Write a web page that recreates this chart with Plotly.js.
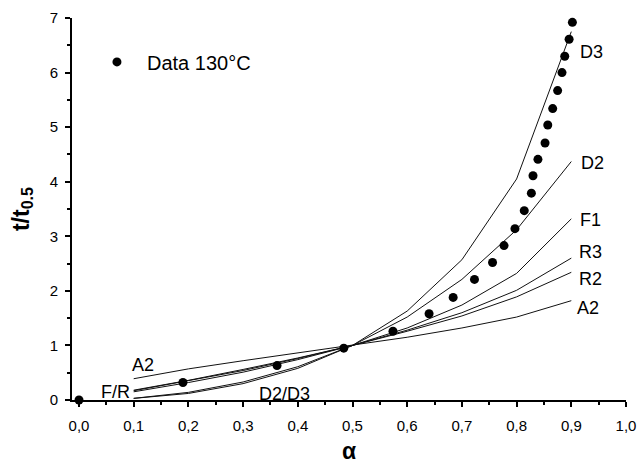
<!DOCTYPE html>
<html>
<head>
<meta charset="utf-8">
<script src="https://cdn.plot.ly/plotly-3.0.1.min.js"></script>
<style>html,body{margin:0;padding:0;background:#fff;}#chart{width:637px;height:464px;}</style>
</head>
<body>
<div id="chart"></div>
<script>
// master-plot grid (alpha)
const alphaGrid = [0.1, 0.2, 0.3, 0.4, 0.5, 0.6, 0.7, 0.8, 0.9];
// reduced time t/t0.5 for each model
const modelA2 = [0.39, 0.57, 0.72, 0.86, 1.00, 1.15, 1.32, 1.52, 1.82];
const modelF1 = [0.15, 0.32, 0.51, 0.74, 1.00, 1.32, 1.74, 2.32, 3.32];
const modelR2 = [0.18, 0.36, 0.56, 0.77, 1.00, 1.26, 1.54, 1.89, 2.34];
const modelR3 = [0.17, 0.35, 0.54, 0.76, 1.00, 1.28, 1.60, 2.01, 2.60];
const modelD2 = [0.03, 0.14, 0.33, 0.61, 1.00, 1.52, 2.21, 3.12, 4.37];
const modelD3 = [0.03, 0.12, 0.30, 0.58, 1.00, 1.63, 2.57, 4.05, 6.75];

// experimental data, 130 °C
const dataAlpha = [0.000, 0.190, 0.362, 0.484, 0.574, 0.640, 0.684, 0.723, 0.756, 0.777,
                   0.797, 0.814, 0.827, 0.830, 0.839, 0.852, 0.857, 0.866, 0.875, 0.883,
                   0.888, 0.896, 0.902];
const dataT = [0.00, 0.32, 0.63, 0.95, 1.26, 1.58, 1.88, 2.21, 2.52, 2.83,
               3.14, 3.47, 3.79, 4.11, 4.41, 4.71, 5.04, 5.34, 5.67, 6.00,
               6.30, 6.61, 6.92];

const xTickVals = [0, 0.1, 0.2, 0.3, 0.4, 0.5, 0.6, 0.7, 0.8, 0.9, 1.0];
const yTickVals = [0, 1, 2, 3, 4, 5, 6, 7];

const models = [
  {name: 'A2', y: modelA2},
  {name: 'F1', y: modelF1},
  {name: 'R2', y: modelR2},
  {name: 'R3', y: modelR3},
  {name: 'D2', y: modelD2},
  {name: 'D3', y: modelD3}
];

const FONT = 'Liberation Sans, Arial, sans-serif';
const traces = models.map(m => ({
  x: alphaGrid, y: m.y, type: 'scatter', mode: 'lines', name: m.name,
  line: {color: '#111', width: 1}, showlegend: false, hoverinfo: 'skip'
}));
traces.push({
  x: dataAlpha, y: dataT, type: 'scatter', mode: 'markers', name: 'Data 130°C',
  marker: {color: '#000', size: 9, symbol: 'circle'}, cliponaxis: false, showlegend: true
});

// curve labels (text at the curve ends)
const labelText = ['D3', 'D2', 'F1', 'R3', 'R2', 'A2', 'A2', 'F/R', 'D2/D3'];
const labelX = [0.912, 0.914, 0.912, 0.910, 0.910, 0.907, 0.093, 0.036, 0.326];
const labelY = [6.37, 4.34, 3.30, 2.72, 2.22, 1.68, 0.64, 0.15, 0.11];
const annotations = labelText.map((t, i) => ({
  x: labelX[i], y: labelY[i], xref: 'x', yref: 'y', text: t, showarrow: false,
  xanchor: 'left', yanchor: 'middle', font: {family: FONT, size: 18, color: '#000'}
}));

const layout = {
  width: 637, height: 464,
  margin: {l: 72, r: 11, t: 18, b: 64},
  paper_bgcolor: '#fff', plot_bgcolor: '#fff',
  separators: ',.',
  font: {family: FONT, color: '#000'},
  xaxis: {
    range: [-0.0128, 1.0], tickvals: xTickVals, tickformat: '.1f',
    showline: true, linecolor: '#000', linewidth: 2, showgrid: false, zeroline: false,
    ticks: 'outside', ticklen: 5, tickwidth: 2, tickcolor: '#000',
    tickfont: {family: FONT, size: 15, color: '#000'}, ticklabelstandoff: 6,
    minor: {dtick: 0.05, tick0: 0, ticks: 'outside', ticklen: 3, tickwidth: 2, tickcolor: '#000', showgrid: false},
    title: {text: '<b>α</b>', font: {family: FONT, size: 23, color: '#000'}, standoff: 14}
  },
  yaxis: {
    range: [0, 7], tickvals: yTickVals,
    showline: true, linecolor: '#000', linewidth: 2, showgrid: false, zeroline: false,
    ticks: 'outside', ticklen: 5, tickwidth: 2, tickcolor: '#000',
    tickfont: {family: FONT, size: 15, color: '#000'}, ticklabelstandoff: 4,
    minor: {dtick: 0.5, tick0: 0, ticks: 'outside', ticklen: 3, tickwidth: 2, tickcolor: '#000', showgrid: false},
    title: {text: '<b>t/t<sub>0.5</sub></b>', font: {family: FONT, size: 23, color: '#000'}, standoff: 14}
  },
  showlegend: true,
  legend: {x: 0.027, y: 0.885, xanchor: 'left', yanchor: 'middle', bgcolor: 'rgba(0,0,0,0)',
           font: {family: FONT, size: 20, color: '#000'}, itemwidth: 50},
  annotations: annotations
};

Plotly.newPlot('chart', traces, layout, {displayModeBar: false, staticPlot: true});
</script>
</body>
</html>
